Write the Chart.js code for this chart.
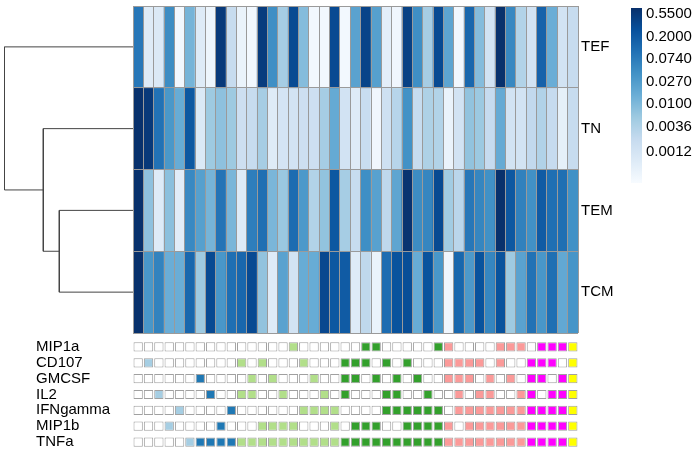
<!DOCTYPE html>
<html><head><meta charset="utf-8">
<script src="https://cdn.jsdelivr.net/npm/chart.js@4.4.1/dist/chart.umd.min.js"></script>
<style>
html,body{margin:0;padding:0;background:#fff;}
#wrap{position:relative;width:700px;height:452px;overflow:hidden;background:#fff;}
canvas{position:absolute;}
</style></head><body>
<div id="wrap">
<canvas id="dendro" width="133" height="328" style="left:0;top:6px"></canvas>
<canvas id="heat" width="480" height="328" style="left:133px;top:6px"></canvas>
<canvas id="legend" width="75" height="190" style="left:625px;top:0"></canvas>
<canvas id="annot" width="542" height="111" style="left:36px;top:339px"></canvas>
</div>
<script>
// ---------- data ----------
const rowNames = ['TEF', 'TN', 'TEM', 'TCM'];
const markers = ['MIP1a', 'CD107', 'GMCSF', 'IL2', 'IFNgamma', 'MIP1b', 'TNFa'];

// columns (cytokine combinations) in which each marker is positive
const MIP1a = [15,22,23,29,30,35,36,37,39,40,41,42];
const CD107 = [1,10,12,16,20,21,22,24,26,30,31,32,33,35,38,39,40,42];
const GMCSF = [6,11,13,17,20,21,23,25,27,30,31,32,34,36,38,39,41,42];
const IL2 = [2,7,10,11,14,18,20,24,25,28,31,33,34,37,38,40,41,42];
const IFNgamma = [4,9,16,17,18,19,24,25,26,27,28,29,31,32,33,34,35,36,37,38,39,40,41,42];
const MIP1b = [3,8,12,13,14,15,19,21,22,23,26,27,28,29,30,32,33,34,35,36,37,38,39,40,41,42];
const TNFa = [5,6,7,8,9,10,11,12,13,14,15,16,17,18,19,20,21,22,23,24,25,26,27,28,29,30,31,32,33,34,35,36,37,38,39,40,41,42];

// heatmap values per subset (one per combination column)
const TEF = [0.085,0.0008,0.0009,0.045,0.00036,0.012,0.0008,0.00044,0.55,0.002,0.0005,0.00036,0.5,0.042,0.0046,
  0.33,0.009,0.00036,0.00036,0.33,0.00036,0.022,0.4,0.024,0.00065,0.0004,0.44,0.042,0.0046,0.33,
  0.02,0.00036,0.14,0.009,0.0013,0.7,0.052,0.0034,0.0013,0.16,0.015,0.0013,0.002];
const TN = [0.7,0.55,0.1,0.032,0.016,0.22,0.0009,0.0055,0.0075,0.0055,0.0016,0.002,0.0046,0.0008,0.0012,
  0.0013,0.0016,0.0016,0.0046,0.017,0.0013,0.0008,0.0019,0.0004,0.0015,0.003,0.039,0.002,0.0038,0.0034,
  0.0005,0.0013,0.007,0.0058,0.0021,0.017,0.0013,0.0013,0.0023,0.0035,0.0021,0.0006,0.002];
const TEM = [0.7,0.0075,0.0008,0.008,0.0007,0.05,0.024,0.012,0.095,0.011,0.0008,0.07,0.11,0.011,0.006,
  0.12,0.03,0.0034,0.007,0.22,0.0046,0.002,0.042,0.023,0.0025,0.02,0.65,0.045,0.055,0.33,
  0.005,0.0028,0.085,0.055,0.04,0.7,0.22,0.065,0.04,0.2,0.11,0.11,0.04];
const TCM = [0.7,0.033,0.06,0.015,0.015,0.14,0.0055,0.33,0.033,0.11,0.14,0.33,0.007,0.0008,0.022,
  0.0013,0.016,0.016,0.35,0.22,0.2,0.0008,0.0025,0.0005,0.12,0.26,0.3,0.016,0.26,0.033,
  0.0004,0.14,0.03,0.26,0.055,0.26,0.0055,0.022,0.1,0.033,0.11,0.018,0.035];

// colour legend ticks
const legendTicks = [0.55, 0.2, 0.074, 0.027, 0.01, 0.0036, 0.0012];

// row dendrogram: merges (children are leaf names or earlier merge numbers), merge heights
const dendroMerges = [
  {a: 'TEM', b: 'TCM', h: 7.37},
  {a: 'TN', b: 1, h: 8.97},
  {a: 'TEF', b: 2, h: 12.85}
];

// ---------- styling ----------
const vmin = 0.0003, vmax = 0.72;
const blues = ['#f7fbff','#deebf7','#c6dbef','#9ecae1','#6baed6','#4292c6','#2171b5','#08519c','#08306b'];
const degreeColors = ['#ffffff','#a6cee3','#1f78b4','#b2df8a','#33a02c','#fb9a99','#ff00ff','#ffff00'];
Chart.defaults.font.family = "'Liberation Sans', Arial, Helvetica, sans-serif";
Chart.defaults.font.size = 15;
Chart.defaults.color = '#000';

function hex(h){return [1,3,5].map(i=>parseInt(h.substr(i,2),16));}
function blueAt(t){
  t = Math.max(0, Math.min(1, t));
  const p = t*8, i = Math.min(7, Math.floor(p)), f = p - i;
  const a = hex(blues[i]), b = hex(blues[i+1]);
  const c = a.map((v,k)=>Math.round(v + (b[k]-v)*f));
  return 'rgb(' + c.join(',') + ')';
}
function colorFor(v){ return blueAt(Math.log(v/vmin)/Math.log(vmax/vmin)); }
function noPad(s){ s.paddingTop = 0; s.paddingBottom = 0; }

const rows = [TEF, TN, TEM, TCM];
const markerCols = [MIP1a, CD107, GMCSF, IL2, IFNgamma, MIP1b, TNFa];
const colIdx = TEF.map((_, i) => i);
const comboLabels = colIdx.map(c => markers.filter((m, r) => markerCols[r].includes(c)).join('+') || 'none');
const degree = colIdx.map(c => markerCols.filter(l => l.includes(c)).length);

const baseOpts = {
  responsive: false, animation: false, events: [],
  plugins: {legend: {display: false}, tooltip: {enabled: false}}
};

// ---------- dendrogram ----------
(function(){
  const nodes = {};
  rowNames.forEach((n, i) => nodes[n] = {y: i + 0.5, h: 0});
  const sets = [];
  dendroMerges.forEach((m, k) => {
    const A = nodes[m.a], B = nodes[m.b];
    sets.push({
      data: [{x: A.h, y: A.y}, {x: m.h, y: A.y}, {x: m.h, y: B.y}, {x: B.h, y: B.y}],
      showLine: true, pointRadius: 0, borderColor: '#444', borderWidth: 1, fill: false, tension: 0
    });
    nodes[k + 1] = {y: (A.y + B.y) / 2, h: m.h};
  });
  new Chart(document.getElementById('dendro'), {
    type: 'scatter',
    data: {datasets: sets},
    options: Object.assign({}, baseOpts, {
      layout: {padding: {bottom: 1}},
      scales: {
        x: {type: 'linear', min: 0, max: 13.3, reverse: true, display: false},
        y: {type: 'linear', min: 0, max: 4, reverse: true, display: false}
      }
    })
  });
})();

// ---------- heatmap ----------
new Chart(document.getElementById('heat'), {
  type: 'bar',
  data: {
    labels: comboLabels,
    datasets: rows.map((vals, r) => ({
      label: rowNames[r],
      data: vals.map(() => [r, r + 1]),
      backgroundColor: vals.map(colorFor),
      borderWidth: 0, barPercentage: 1, categoryPercentage: 1, grouped: false
    }))
  },
  options: Object.assign({}, baseOpts, {
    layout: {padding: {bottom: 1}},
    scales: {
      x: {type: 'category', offset: true,
          grid: {display: true, offset: true, color: '#9a9a9a', lineWidth: 1, drawTicks: false, z: 1},
          border: {display: false}, ticks: {display: false},
          afterFit(s){ s.height = 0; s.paddingLeft = 0; s.paddingRight = 0; }},
      y: {type: 'linear', min: 0, max: 4, reverse: true, position: 'left',
          ticks: {display: false, stepSize: 1},
          grid: {color: '#9a9a9a', lineWidth: 1, drawTicks: false, z: 1},
          border: {display: false},
          afterFit(s){ s.width = 0; noPad(s); }},
      y2: {type: 'linear', min: 0, max: 4, reverse: true, position: 'right',
           grid: {display: false, drawTicks: false}, border: {display: false},
           afterBuildTicks(s){ s.ticks = rowNames.map((n, i) => ({value: i + 0.5})); },
           ticks: {padding: 3, autoSkip: false, color: '#000', font: {size: 15},
                   callback: (v, i) => rowNames[i]},
           afterFit(s){ s.width = 35; noPad(s); }}
    }
  })
});

// ---------- colour legend ----------
new Chart(document.getElementById('legend'), {
  type: 'bar',
  data: {
    labels: [''],
    datasets: [{
      data: [[vmin, vmax]],
      backgroundColor: (ctx) => {
        const a = ctx.chart.chartArea;
        if (!a) return blues[4];
        const g = ctx.chart.ctx.createLinearGradient(0, a.bottom, 0, a.top);
        blues.forEach((c, i) => g.addColorStop(i / 8, c));
        return g;
      },
      borderWidth: 0, barPercentage: 1, categoryPercentage: 1
    }]
  },
  options: Object.assign({}, baseOpts, {
    layout: {padding: {left: 6, top: 8, bottom: 7}},
    scales: {
      x: {display: false},
      y: {type: 'logarithmic', position: 'right', min: vmin, max: vmax,
          grid: {display: false, drawTicks: false}, border: {display: false},
          afterBuildTicks(s){ s.ticks = legendTicks.map(v => ({value: v})); },
          ticks: {autoSkip: false, padding: 4, color: '#000', font: {size: 15},
                  callback: (v) => Number(v).toFixed(4)},
          afterFit(s){ s.width = 58; noPad(s); }}
    }
  })
});

// ---------- combination annotation ----------
new Chart(document.getElementById('annot'), {
  type: 'bar',
  data: {
    labels: comboLabels,
    datasets: markers.map((m, r) => ({
      label: m,
      data: colIdx.map(() => [r + 0.21, r + 0.79]),
      backgroundColor: colIdx.map(c => markerCols[r].includes(c) ? degreeColors[degree[c]] : '#ffffff'),
      borderColor: '#a0a0a0', borderWidth: 1, borderSkipped: false,
      barPercentage: 0.9, categoryPercentage: 1, grouped: false
    }))
  },
  options: Object.assign({}, baseOpts, {
    scales: {
      x: {display: false, offset: true},
      y: {type: 'linear', min: 0, max: 7, reverse: true, position: 'left',
          grid: {display: false, drawTicks: false}, border: {display: false},
          afterBuildTicks(s){ s.ticks = markers.map((m, i) => ({value: i + 0.5})); },
          ticks: {crossAlign: 'far', padding: 0, autoSkip: false, color: '#000', font: {size: 15},
                  callback: (v, i) => markers[i]},
          afterFit(s){ s.width = 97; noPad(s); }}
    }
  })
});
</script>
</body></html>
